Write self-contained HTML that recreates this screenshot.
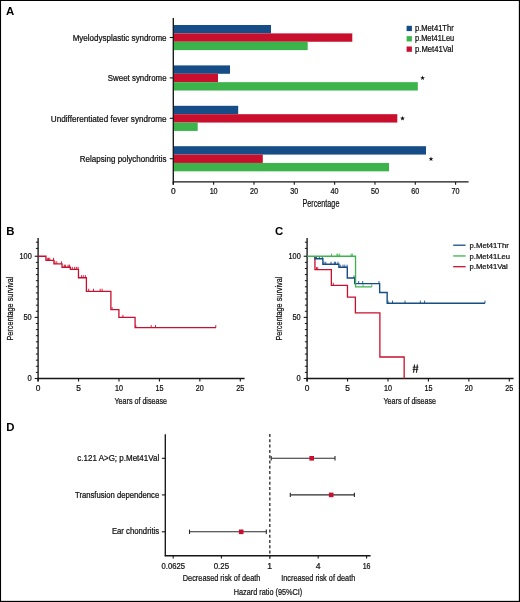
<!DOCTYPE html>
<html><head><meta charset="utf-8"><style>
html,body{margin:0;padding:0;background:#fff;}
svg{display:block;will-change:transform;}
text{font-family:"Liberation Sans",sans-serif;}
</style></head><body>
<svg width="520" height="602" viewBox="0 0 520 602">
<rect width="520" height="602" fill="#fff"/>
<rect x="0.00" y="0.00" width="520.00" height="1.00" fill="#000"/>
<rect x="0.00" y="600.85" width="520.00" height="1.15" fill="#000"/>
<rect x="0.00" y="0.00" width="1.05" height="602.00" fill="#000"/>
<rect x="518.85" y="0.00" width="1.15" height="602.00" fill="#000"/>
<text x="6.00" y="15.00" font-size="11.4" font-weight="bold" fill="#000">A</text>
<rect x="173.80" y="25.00" width="97.20" height="8.38" fill="#164d86"/>
<rect x="173.80" y="33.38" width="178.50" height="8.38" fill="#c8102e"/>
<rect x="173.80" y="41.76" width="133.90" height="8.38" fill="#3cb44b"/>
<rect x="173.80" y="65.40" width="56.20" height="8.38" fill="#164d86"/>
<rect x="173.80" y="73.78" width="44.20" height="8.38" fill="#c8102e"/>
<rect x="173.80" y="82.16" width="244.00" height="8.38" fill="#3cb44b"/>
<rect x="173.80" y="105.80" width="64.40" height="8.38" fill="#164d86"/>
<rect x="173.80" y="114.18" width="223.50" height="8.38" fill="#c8102e"/>
<rect x="173.80" y="122.56" width="23.90" height="8.38" fill="#3cb44b"/>
<rect x="173.80" y="146.20" width="252.20" height="8.38" fill="#164d86"/>
<rect x="173.80" y="154.58" width="89.00" height="8.38" fill="#c8102e"/>
<rect x="173.80" y="162.96" width="215.20" height="8.38" fill="#3cb44b"/>
<line x1="173.30" y1="18.10" x2="173.30" y2="184.80" stroke="#161616" stroke-width="1.35" />
<line x1="172.70" y1="181.90" x2="468.60" y2="181.90" stroke="#161616" stroke-width="1.35" />
<line x1="173.30" y1="181.90" x2="173.30" y2="184.80" stroke="#161616" stroke-width="1.1" />
<text x="173.30" y="194.20" font-size="8.4" text-anchor="middle" stroke="#111" stroke-width="0.24" fill="#111">0</text>
<line x1="213.63" y1="181.90" x2="213.63" y2="184.80" stroke="#161616" stroke-width="1.1" />
<text x="213.63" y="194.20" font-size="8.4" text-anchor="middle" textLength="8.00" lengthAdjust="spacingAndGlyphs" stroke="#111" stroke-width="0.24" fill="#111">10</text>
<line x1="253.96" y1="181.90" x2="253.96" y2="184.80" stroke="#161616" stroke-width="1.1" />
<text x="253.96" y="194.20" font-size="8.4" text-anchor="middle" textLength="8.00" lengthAdjust="spacingAndGlyphs" stroke="#111" stroke-width="0.24" fill="#111">20</text>
<line x1="294.29" y1="181.90" x2="294.29" y2="184.80" stroke="#161616" stroke-width="1.1" />
<text x="294.29" y="194.20" font-size="8.4" text-anchor="middle" textLength="8.00" lengthAdjust="spacingAndGlyphs" stroke="#111" stroke-width="0.24" fill="#111">30</text>
<line x1="334.62" y1="181.90" x2="334.62" y2="184.80" stroke="#161616" stroke-width="1.1" />
<text x="334.62" y="194.20" font-size="8.4" text-anchor="middle" textLength="8.00" lengthAdjust="spacingAndGlyphs" stroke="#111" stroke-width="0.24" fill="#111">40</text>
<line x1="374.95" y1="181.90" x2="374.95" y2="184.80" stroke="#161616" stroke-width="1.1" />
<text x="374.95" y="194.20" font-size="8.4" text-anchor="middle" textLength="8.00" lengthAdjust="spacingAndGlyphs" stroke="#111" stroke-width="0.24" fill="#111">50</text>
<line x1="415.28" y1="181.90" x2="415.28" y2="184.80" stroke="#161616" stroke-width="1.1" />
<text x="415.28" y="194.20" font-size="8.4" text-anchor="middle" textLength="8.00" lengthAdjust="spacingAndGlyphs" stroke="#111" stroke-width="0.24" fill="#111">60</text>
<line x1="455.61" y1="181.90" x2="455.61" y2="184.80" stroke="#161616" stroke-width="1.1" />
<text x="455.61" y="194.20" font-size="8.4" text-anchor="middle" textLength="8.00" lengthAdjust="spacingAndGlyphs" stroke="#111" stroke-width="0.24" fill="#111">70</text>
<line x1="169.80" y1="37.50" x2="173.30" y2="37.50" stroke="#161616" stroke-width="1.1" />
<text x="72.70" y="40.90" font-size="8.5" textLength="93.90" lengthAdjust="spacingAndGlyphs" stroke="#111" stroke-width="0.24" fill="#111">Myelodysplastic syndrome</text>
<line x1="169.80" y1="77.90" x2="173.30" y2="77.90" stroke="#161616" stroke-width="1.1" />
<text x="107.80" y="81.00" font-size="8.5" textLength="58.80" lengthAdjust="spacingAndGlyphs" stroke="#111" stroke-width="0.24" fill="#111">Sweet syndrome</text>
<line x1="169.80" y1="118.30" x2="173.30" y2="118.30" stroke="#161616" stroke-width="1.1" />
<text x="50.80" y="121.70" font-size="8.5" textLength="115.80" lengthAdjust="spacingAndGlyphs" stroke="#111" stroke-width="0.24" fill="#111">Undifferentiated fever syndrome</text>
<line x1="169.80" y1="158.70" x2="173.30" y2="158.70" stroke="#161616" stroke-width="1.1" />
<text x="79.80" y="161.60" font-size="8.5" textLength="86.80" lengthAdjust="spacingAndGlyphs" stroke="#111" stroke-width="0.24" fill="#111">Relapsing polychondritis</text>
<text x="302.50" y="207.30" font-size="10" textLength="36.90" lengthAdjust="spacingAndGlyphs" stroke="#111" stroke-width="0.24" fill="#111">Percentage</text>
<polygon points="422.60,75.50 423.22,77.15 424.98,77.23 423.60,78.32 424.07,80.02 422.60,79.05 421.13,80.02 421.60,78.32 420.22,77.23 421.98,77.15" fill="#111"/>
<polygon points="402.50,115.90 403.12,117.55 404.88,117.63 403.50,118.72 403.97,120.42 402.50,119.45 401.03,120.42 401.50,118.72 400.12,117.63 401.88,117.55" fill="#111"/>
<polygon points="431.00,156.50 431.62,158.15 433.38,158.23 432.00,159.32 432.47,161.02 431.00,160.05 429.53,161.02 430.00,159.32 428.62,158.23 430.38,158.15" fill="#111"/>
<rect x="406.60" y="25.80" width="5.30" height="5.30" fill="#164d86"/>
<text x="415.00" y="31.00" font-size="8.4" textLength="38.70" lengthAdjust="spacingAndGlyphs" stroke="#111" stroke-width="0.24" fill="#111">p.Met41Thr</text>
<rect x="406.60" y="36.15" width="5.30" height="5.30" fill="#3cb44b"/>
<text x="415.00" y="41.35" font-size="8.4" textLength="39.20" lengthAdjust="spacingAndGlyphs" stroke="#111" stroke-width="0.24" fill="#111">p.Met41Leu</text>
<rect x="406.60" y="46.50" width="5.30" height="5.30" fill="#c8102e"/>
<text x="415.00" y="51.70" font-size="8.4" textLength="38.30" lengthAdjust="spacingAndGlyphs" stroke="#111" stroke-width="0.24" fill="#111">p.Met41Val</text>
<text x="6.20" y="234.90" font-size="11.4" font-weight="bold" fill="#000">B</text>
<line x1="38.10" y1="237.90" x2="38.10" y2="381.50" stroke="#161616" stroke-width="1.35" />
<line x1="37.50" y1="378.50" x2="244.60" y2="378.50" stroke="#161616" stroke-width="1.35" />
<line x1="34.70" y1="378.50" x2="38.10" y2="378.50" stroke="#161616" stroke-width="1.1" />
<line x1="35.90" y1="372.39" x2="38.10" y2="372.39" stroke="#161616" stroke-width="1.0" />
<line x1="35.90" y1="366.27" x2="38.10" y2="366.27" stroke="#161616" stroke-width="1.0" />
<line x1="35.90" y1="360.16" x2="38.10" y2="360.16" stroke="#161616" stroke-width="1.0" />
<line x1="35.90" y1="354.05" x2="38.10" y2="354.05" stroke="#161616" stroke-width="1.0" />
<line x1="35.90" y1="347.94" x2="38.10" y2="347.94" stroke="#161616" stroke-width="1.0" />
<line x1="35.90" y1="341.82" x2="38.10" y2="341.82" stroke="#161616" stroke-width="1.0" />
<line x1="35.90" y1="335.71" x2="38.10" y2="335.71" stroke="#161616" stroke-width="1.0" />
<line x1="35.90" y1="329.60" x2="38.10" y2="329.60" stroke="#161616" stroke-width="1.0" />
<line x1="35.90" y1="323.49" x2="38.10" y2="323.49" stroke="#161616" stroke-width="1.0" />
<line x1="34.70" y1="317.38" x2="38.10" y2="317.38" stroke="#161616" stroke-width="1.1" />
<line x1="35.90" y1="311.26" x2="38.10" y2="311.26" stroke="#161616" stroke-width="1.0" />
<line x1="35.90" y1="305.15" x2="38.10" y2="305.15" stroke="#161616" stroke-width="1.0" />
<line x1="35.90" y1="299.04" x2="38.10" y2="299.04" stroke="#161616" stroke-width="1.0" />
<line x1="35.90" y1="292.93" x2="38.10" y2="292.93" stroke="#161616" stroke-width="1.0" />
<line x1="35.90" y1="286.81" x2="38.10" y2="286.81" stroke="#161616" stroke-width="1.0" />
<line x1="35.90" y1="280.70" x2="38.10" y2="280.70" stroke="#161616" stroke-width="1.0" />
<line x1="35.90" y1="274.59" x2="38.10" y2="274.59" stroke="#161616" stroke-width="1.0" />
<line x1="35.90" y1="268.48" x2="38.10" y2="268.48" stroke="#161616" stroke-width="1.0" />
<line x1="35.90" y1="262.36" x2="38.10" y2="262.36" stroke="#161616" stroke-width="1.0" />
<line x1="34.70" y1="256.25" x2="38.10" y2="256.25" stroke="#161616" stroke-width="1.1" />
<line x1="35.90" y1="248.40" x2="38.10" y2="248.40" stroke="#161616" stroke-width="1.0" />
<line x1="35.90" y1="242.20" x2="38.10" y2="242.20" stroke="#161616" stroke-width="1.0" />
<text x="31.70" y="259.15" font-size="8.4" text-anchor="end" textLength="12.20" lengthAdjust="spacingAndGlyphs" stroke="#111" stroke-width="0.24" fill="#111">100</text>
<text x="31.70" y="320.27" font-size="8.4" text-anchor="end" textLength="8.20" lengthAdjust="spacingAndGlyphs" stroke="#111" stroke-width="0.24" fill="#111">50</text>
<text x="31.70" y="381.40" font-size="8.4" text-anchor="end" textLength="4.20" lengthAdjust="spacingAndGlyphs" stroke="#111" stroke-width="0.24" fill="#111">0</text>
<line x1="38.10" y1="378.50" x2="38.10" y2="381.50" stroke="#161616" stroke-width="1.1" />
<text x="38.10" y="390.90" font-size="8.4" text-anchor="middle" stroke="#111" stroke-width="0.24" fill="#111">0</text>
<line x1="78.54" y1="378.50" x2="78.54" y2="381.50" stroke="#161616" stroke-width="1.1" />
<text x="78.54" y="390.90" font-size="8.4" text-anchor="middle" stroke="#111" stroke-width="0.24" fill="#111">5</text>
<line x1="118.98" y1="378.50" x2="118.98" y2="381.50" stroke="#161616" stroke-width="1.1" />
<text x="118.98" y="390.90" font-size="8.4" text-anchor="middle" textLength="8.00" lengthAdjust="spacingAndGlyphs" stroke="#111" stroke-width="0.24" fill="#111">10</text>
<line x1="159.42" y1="378.50" x2="159.42" y2="381.50" stroke="#161616" stroke-width="1.1" />
<text x="159.42" y="390.90" font-size="8.4" text-anchor="middle" textLength="8.00" lengthAdjust="spacingAndGlyphs" stroke="#111" stroke-width="0.24" fill="#111">15</text>
<line x1="199.86" y1="378.50" x2="199.86" y2="381.50" stroke="#161616" stroke-width="1.1" />
<text x="199.86" y="390.90" font-size="8.4" text-anchor="middle" textLength="8.00" lengthAdjust="spacingAndGlyphs" stroke="#111" stroke-width="0.24" fill="#111">20</text>
<line x1="240.30" y1="378.50" x2="240.30" y2="381.50" stroke="#161616" stroke-width="1.1" />
<text x="240.30" y="390.90" font-size="8.4" text-anchor="middle" textLength="8.00" lengthAdjust="spacingAndGlyphs" stroke="#111" stroke-width="0.24" fill="#111">25</text>
<text x="114.50" y="403.50" font-size="9.3" textLength="52.50" lengthAdjust="spacingAndGlyphs" stroke="#111" stroke-width="0.24" fill="#111">Years of disease</text>
<text x="13.50" y="340.60" font-size="9.9" textLength="64.00" lengthAdjust="spacingAndGlyphs" transform="rotate(-90 13.50 340.60)" stroke="#111" stroke-width="0.24" fill="#111">Percentage survival</text>
<path d="M38.10,256.25 L45.95,256.25 L45.95,260.41 L53.95,260.41 L53.95,263.83 L62.04,263.83 L62.04,267.25 L70.37,267.25 L70.37,269.45 L78.46,269.45 L78.46,277.77 L86.39,277.77 L86.39,291.34 L110.89,291.34 L110.89,309.67 L118.90,309.67 L118.90,317.38 L135.08,317.38 L135.08,327.64 L216.04,327.64" fill="none" stroke="#c8102e" stroke-width="1.3" stroke-linejoin="miter" stroke-linecap="butt"/>
<line x1="47.30" y1="257.81" x2="47.30" y2="260.41" stroke="#c8102e" stroke-width="0.9" />
<line x1="48.50" y1="257.81" x2="48.50" y2="260.41" stroke="#c8102e" stroke-width="0.9" />
<line x1="49.80" y1="257.81" x2="49.80" y2="260.41" stroke="#c8102e" stroke-width="0.9" />
<line x1="53.50" y1="257.81" x2="53.50" y2="260.41" stroke="#c8102e" stroke-width="0.9" />
<line x1="55.00" y1="261.23" x2="55.00" y2="263.83" stroke="#c8102e" stroke-width="0.9" />
<line x1="56.80" y1="261.23" x2="56.80" y2="263.83" stroke="#c8102e" stroke-width="0.9" />
<line x1="61.40" y1="261.23" x2="61.40" y2="263.83" stroke="#c8102e" stroke-width="0.9" />
<line x1="64.30" y1="264.65" x2="64.30" y2="267.25" stroke="#c8102e" stroke-width="0.9" />
<line x1="65.40" y1="264.65" x2="65.40" y2="267.25" stroke="#c8102e" stroke-width="0.9" />
<line x1="68.10" y1="264.65" x2="68.10" y2="267.25" stroke="#c8102e" stroke-width="0.9" />
<line x1="69.50" y1="264.65" x2="69.50" y2="267.25" stroke="#c8102e" stroke-width="0.9" />
<line x1="72.30" y1="266.85" x2="72.30" y2="269.45" stroke="#c8102e" stroke-width="0.9" />
<line x1="74.70" y1="266.85" x2="74.70" y2="269.45" stroke="#c8102e" stroke-width="0.9" />
<line x1="76.40" y1="266.85" x2="76.40" y2="269.45" stroke="#c8102e" stroke-width="0.9" />
<line x1="78.10" y1="266.85" x2="78.10" y2="269.45" stroke="#c8102e" stroke-width="0.9" />
<line x1="81.60" y1="275.17" x2="81.60" y2="277.77" stroke="#c8102e" stroke-width="0.9" />
<line x1="83.30" y1="275.17" x2="83.30" y2="277.77" stroke="#c8102e" stroke-width="0.9" />
<line x1="85.40" y1="275.17" x2="85.40" y2="277.77" stroke="#c8102e" stroke-width="0.9" />
<line x1="88.70" y1="288.74" x2="88.70" y2="291.34" stroke="#c8102e" stroke-width="0.9" />
<line x1="93.50" y1="288.74" x2="93.50" y2="291.34" stroke="#c8102e" stroke-width="0.9" />
<line x1="100.20" y1="288.74" x2="100.20" y2="291.34" stroke="#c8102e" stroke-width="0.9" />
<line x1="102.10" y1="288.74" x2="102.10" y2="291.34" stroke="#c8102e" stroke-width="0.9" />
<line x1="112.10" y1="307.07" x2="112.10" y2="309.67" stroke="#c8102e" stroke-width="0.9" />
<line x1="122.90" y1="314.77" x2="122.90" y2="317.38" stroke="#c8102e" stroke-width="0.9" />
<line x1="135.80" y1="325.04" x2="135.80" y2="327.64" stroke="#c8102e" stroke-width="0.9" />
<line x1="151.20" y1="325.04" x2="151.20" y2="327.64" stroke="#c8102e" stroke-width="0.9" />
<line x1="155.50" y1="325.04" x2="155.50" y2="327.64" stroke="#c8102e" stroke-width="0.9" />
<line x1="215.80" y1="325.04" x2="215.80" y2="327.64" stroke="#c8102e" stroke-width="0.9" />
<text x="275.00" y="234.90" font-size="11.4" font-weight="bold" fill="#000">C</text>
<line x1="307.10" y1="237.90" x2="307.10" y2="381.50" stroke="#161616" stroke-width="1.35" />
<line x1="306.50" y1="378.50" x2="513.60" y2="378.50" stroke="#161616" stroke-width="1.35" />
<line x1="303.70" y1="378.50" x2="307.10" y2="378.50" stroke="#161616" stroke-width="1.1" />
<line x1="304.90" y1="372.39" x2="307.10" y2="372.39" stroke="#161616" stroke-width="1.0" />
<line x1="304.90" y1="366.27" x2="307.10" y2="366.27" stroke="#161616" stroke-width="1.0" />
<line x1="304.90" y1="360.16" x2="307.10" y2="360.16" stroke="#161616" stroke-width="1.0" />
<line x1="304.90" y1="354.05" x2="307.10" y2="354.05" stroke="#161616" stroke-width="1.0" />
<line x1="304.90" y1="347.94" x2="307.10" y2="347.94" stroke="#161616" stroke-width="1.0" />
<line x1="304.90" y1="341.82" x2="307.10" y2="341.82" stroke="#161616" stroke-width="1.0" />
<line x1="304.90" y1="335.71" x2="307.10" y2="335.71" stroke="#161616" stroke-width="1.0" />
<line x1="304.90" y1="329.60" x2="307.10" y2="329.60" stroke="#161616" stroke-width="1.0" />
<line x1="304.90" y1="323.49" x2="307.10" y2="323.49" stroke="#161616" stroke-width="1.0" />
<line x1="303.70" y1="317.38" x2="307.10" y2="317.38" stroke="#161616" stroke-width="1.1" />
<line x1="304.90" y1="311.26" x2="307.10" y2="311.26" stroke="#161616" stroke-width="1.0" />
<line x1="304.90" y1="305.15" x2="307.10" y2="305.15" stroke="#161616" stroke-width="1.0" />
<line x1="304.90" y1="299.04" x2="307.10" y2="299.04" stroke="#161616" stroke-width="1.0" />
<line x1="304.90" y1="292.93" x2="307.10" y2="292.93" stroke="#161616" stroke-width="1.0" />
<line x1="304.90" y1="286.81" x2="307.10" y2="286.81" stroke="#161616" stroke-width="1.0" />
<line x1="304.90" y1="280.70" x2="307.10" y2="280.70" stroke="#161616" stroke-width="1.0" />
<line x1="304.90" y1="274.59" x2="307.10" y2="274.59" stroke="#161616" stroke-width="1.0" />
<line x1="304.90" y1="268.48" x2="307.10" y2="268.48" stroke="#161616" stroke-width="1.0" />
<line x1="304.90" y1="262.36" x2="307.10" y2="262.36" stroke="#161616" stroke-width="1.0" />
<line x1="303.70" y1="256.25" x2="307.10" y2="256.25" stroke="#161616" stroke-width="1.1" />
<line x1="304.90" y1="248.40" x2="307.10" y2="248.40" stroke="#161616" stroke-width="1.0" />
<line x1="304.90" y1="242.20" x2="307.10" y2="242.20" stroke="#161616" stroke-width="1.0" />
<text x="300.70" y="259.15" font-size="8.4" text-anchor="end" textLength="12.20" lengthAdjust="spacingAndGlyphs" stroke="#111" stroke-width="0.24" fill="#111">100</text>
<text x="300.70" y="320.27" font-size="8.4" text-anchor="end" textLength="8.20" lengthAdjust="spacingAndGlyphs" stroke="#111" stroke-width="0.24" fill="#111">50</text>
<text x="300.70" y="381.40" font-size="8.4" text-anchor="end" textLength="4.20" lengthAdjust="spacingAndGlyphs" stroke="#111" stroke-width="0.24" fill="#111">0</text>
<line x1="307.10" y1="378.50" x2="307.10" y2="381.50" stroke="#161616" stroke-width="1.1" />
<text x="307.10" y="390.90" font-size="8.4" text-anchor="middle" stroke="#111" stroke-width="0.24" fill="#111">0</text>
<line x1="347.54" y1="378.50" x2="347.54" y2="381.50" stroke="#161616" stroke-width="1.1" />
<text x="347.54" y="390.90" font-size="8.4" text-anchor="middle" stroke="#111" stroke-width="0.24" fill="#111">5</text>
<line x1="387.98" y1="378.50" x2="387.98" y2="381.50" stroke="#161616" stroke-width="1.1" />
<text x="387.98" y="390.90" font-size="8.4" text-anchor="middle" textLength="8.00" lengthAdjust="spacingAndGlyphs" stroke="#111" stroke-width="0.24" fill="#111">10</text>
<line x1="428.42" y1="378.50" x2="428.42" y2="381.50" stroke="#161616" stroke-width="1.1" />
<text x="428.42" y="390.90" font-size="8.4" text-anchor="middle" textLength="8.00" lengthAdjust="spacingAndGlyphs" stroke="#111" stroke-width="0.24" fill="#111">15</text>
<line x1="468.86" y1="378.50" x2="468.86" y2="381.50" stroke="#161616" stroke-width="1.1" />
<text x="468.86" y="390.90" font-size="8.4" text-anchor="middle" textLength="8.00" lengthAdjust="spacingAndGlyphs" stroke="#111" stroke-width="0.24" fill="#111">20</text>
<line x1="509.30" y1="378.50" x2="509.30" y2="381.50" stroke="#161616" stroke-width="1.1" />
<text x="509.30" y="390.90" font-size="8.4" text-anchor="middle" textLength="8.00" lengthAdjust="spacingAndGlyphs" stroke="#111" stroke-width="0.24" fill="#111">25</text>
<text x="383.50" y="403.50" font-size="9.3" textLength="52.50" lengthAdjust="spacingAndGlyphs" stroke="#111" stroke-width="0.24" fill="#111">Years of disease</text>
<text x="282.30" y="340.60" font-size="9.9" textLength="64.00" lengthAdjust="spacingAndGlyphs" transform="rotate(-90 282.30 340.60)" stroke="#111" stroke-width="0.24" fill="#111">Percentage survival</text>
<path d="M314.95,256.25 L314.95,256.25 L314.95,269.70 L331.36,269.70 L331.36,285.35 L347.46,285.35 L347.46,297.08 L355.39,297.08 L355.39,312.97 L379.89,312.97 L379.89,356.98 L404.16,356.98 L404.16,378.50" fill="none" stroke="#c8102e" stroke-width="1.3" stroke-linejoin="miter" stroke-linecap="butt"/>
<line x1="316.50" y1="267.10" x2="316.50" y2="269.70" stroke="#c8102e" stroke-width="0.9" />
<line x1="317.70" y1="267.10" x2="317.70" y2="269.70" stroke="#c8102e" stroke-width="0.9" />
<line x1="333.30" y1="282.75" x2="333.30" y2="285.35" stroke="#c8102e" stroke-width="0.9" />
<path d="M314.95,256.25 L314.95,256.25 L314.95,258.69 L322.87,258.69 L322.87,264.32 L338.89,264.32 L338.89,267.25 L347.30,267.25 L347.30,278.01 L354.74,278.01 L354.74,283.63 L379.65,283.63 L379.65,292.44 L387.17,292.44 L387.17,303.19 L485.04,303.19" fill="none" stroke="#164d86" stroke-width="1.4" stroke-linejoin="miter" stroke-linecap="butt"/>
<line x1="316.50" y1="256.09" x2="316.50" y2="258.69" stroke="#164d86" stroke-width="0.9" />
<line x1="319.40" y1="256.09" x2="319.40" y2="258.69" stroke="#164d86" stroke-width="0.9" />
<line x1="322.30" y1="256.09" x2="322.30" y2="258.69" stroke="#164d86" stroke-width="0.9" />
<line x1="324.00" y1="261.72" x2="324.00" y2="264.32" stroke="#164d86" stroke-width="0.9" />
<line x1="325.80" y1="261.72" x2="325.80" y2="264.32" stroke="#164d86" stroke-width="0.9" />
<line x1="331.00" y1="261.72" x2="331.00" y2="264.32" stroke="#164d86" stroke-width="0.9" />
<line x1="334.40" y1="261.72" x2="334.40" y2="264.32" stroke="#164d86" stroke-width="0.9" />
<line x1="335.60" y1="261.72" x2="335.60" y2="264.32" stroke="#164d86" stroke-width="0.9" />
<line x1="338.00" y1="261.72" x2="338.00" y2="264.32" stroke="#164d86" stroke-width="0.9" />
<line x1="340.20" y1="264.65" x2="340.20" y2="267.25" stroke="#164d86" stroke-width="0.9" />
<line x1="343.00" y1="264.65" x2="343.00" y2="267.25" stroke="#164d86" stroke-width="0.9" />
<line x1="344.80" y1="264.65" x2="344.80" y2="267.25" stroke="#164d86" stroke-width="0.9" />
<line x1="347.10" y1="264.65" x2="347.10" y2="267.25" stroke="#164d86" stroke-width="0.9" />
<line x1="354.00" y1="275.41" x2="354.00" y2="278.01" stroke="#164d86" stroke-width="0.9" />
<line x1="358.70" y1="281.03" x2="358.70" y2="283.63" stroke="#164d86" stroke-width="0.9" />
<line x1="362.70" y1="281.03" x2="362.70" y2="283.63" stroke="#164d86" stroke-width="0.9" />
<line x1="379.00" y1="281.03" x2="379.00" y2="283.63" stroke="#164d86" stroke-width="0.9" />
<line x1="388.00" y1="300.59" x2="388.00" y2="303.19" stroke="#164d86" stroke-width="0.9" />
<line x1="392.50" y1="300.59" x2="392.50" y2="303.19" stroke="#164d86" stroke-width="0.9" />
<line x1="405.00" y1="300.59" x2="405.00" y2="303.19" stroke="#164d86" stroke-width="0.9" />
<line x1="420.30" y1="300.59" x2="420.30" y2="303.19" stroke="#164d86" stroke-width="0.9" />
<line x1="424.60" y1="300.59" x2="424.60" y2="303.19" stroke="#164d86" stroke-width="0.9" />
<line x1="485.00" y1="300.59" x2="485.00" y2="303.19" stroke="#164d86" stroke-width="0.9" />
<path d="M307.10,256.25 L355.55,256.25 L355.55,286.81 L371.80,286.81" fill="none" stroke="#3cb44b" stroke-width="1.3" stroke-linejoin="miter" stroke-linecap="butt"/>
<line x1="331.50" y1="253.65" x2="331.50" y2="256.25" stroke="#3cb44b" stroke-width="0.9" />
<line x1="337.00" y1="253.65" x2="337.00" y2="256.25" stroke="#3cb44b" stroke-width="0.9" />
<line x1="337.90" y1="253.65" x2="337.90" y2="256.25" stroke="#3cb44b" stroke-width="0.9" />
<line x1="339.60" y1="253.65" x2="339.60" y2="256.25" stroke="#3cb44b" stroke-width="0.9" />
<line x1="351.20" y1="253.65" x2="351.20" y2="256.25" stroke="#3cb44b" stroke-width="0.9" />
<line x1="352.30" y1="253.65" x2="352.30" y2="256.25" stroke="#3cb44b" stroke-width="0.9" />
<line x1="363.00" y1="284.21" x2="363.00" y2="286.81" stroke="#3cb44b" stroke-width="0.9" />
<line x1="371.80" y1="284.21" x2="371.80" y2="286.81" stroke="#3cb44b" stroke-width="0.9" />
<line x1="414.50" y1="364.50" x2="413.60" y2="372.70" stroke="#111" stroke-width="1.05" />
<line x1="417.40" y1="364.50" x2="416.50" y2="372.70" stroke="#111" stroke-width="1.05" />
<line x1="412.70" y1="367.20" x2="418.40" y2="367.20" stroke="#111" stroke-width="0.85" />
<line x1="412.50" y1="369.40" x2="418.20" y2="369.40" stroke="#111" stroke-width="0.85" />
<line x1="453.20" y1="245.20" x2="465.60" y2="245.20" stroke="#164d86" stroke-width="1.3" />
<text x="469.60" y="247.80" font-size="8.0" textLength="39.30" lengthAdjust="spacingAndGlyphs" stroke="#111" stroke-width="0.24" fill="#111">p.Met41Thr</text>
<line x1="453.20" y1="255.95" x2="465.60" y2="255.95" stroke="#3cb44b" stroke-width="1.3" />
<text x="469.60" y="258.55" font-size="8.0" textLength="40.40" lengthAdjust="spacingAndGlyphs" stroke="#111" stroke-width="0.24" fill="#111">p.Met41Leu</text>
<line x1="453.20" y1="266.70" x2="465.60" y2="266.70" stroke="#c8102e" stroke-width="1.3" />
<text x="469.60" y="269.30" font-size="8.0" textLength="38.20" lengthAdjust="spacingAndGlyphs" stroke="#111" stroke-width="0.24" fill="#111">p.Met41Val</text>
<text x="6.20" y="431.30" font-size="11.4" font-weight="bold" fill="#000">D</text>
<line x1="165.30" y1="434.30" x2="165.30" y2="556.30" stroke="#161616" stroke-width="1.35" />
<line x1="164.70" y1="555.70" x2="370.60" y2="555.70" stroke="#161616" stroke-width="1.35" />
<line x1="173.20" y1="555.70" x2="173.20" y2="558.60" stroke="#161616" stroke-width="1.1" />
<text x="173.20" y="568.60" font-size="8.6" text-anchor="middle" textLength="23.40" lengthAdjust="spacingAndGlyphs" stroke="#111" stroke-width="0.24" fill="#111">0.0625</text>
<line x1="221.40" y1="555.70" x2="221.40" y2="558.60" stroke="#161616" stroke-width="1.1" />
<text x="221.40" y="568.60" font-size="8.6" text-anchor="middle" textLength="15.40" lengthAdjust="spacingAndGlyphs" stroke="#111" stroke-width="0.24" fill="#111">0.25</text>
<line x1="269.70" y1="555.70" x2="269.70" y2="558.60" stroke="#161616" stroke-width="1.1" />
<text x="269.70" y="568.60" font-size="8.6" text-anchor="middle" stroke="#111" stroke-width="0.24" fill="#111">1</text>
<line x1="318.20" y1="555.70" x2="318.20" y2="558.60" stroke="#161616" stroke-width="1.1" />
<text x="318.20" y="568.60" font-size="8.6" text-anchor="middle" stroke="#111" stroke-width="0.24" fill="#111">4</text>
<line x1="366.60" y1="555.70" x2="366.60" y2="558.60" stroke="#161616" stroke-width="1.1" />
<text x="366.60" y="568.60" font-size="8.6" text-anchor="middle" textLength="7.80" lengthAdjust="spacingAndGlyphs" stroke="#111" stroke-width="0.24" fill="#111">16</text>
<line x1="269.80" y1="434.00" x2="269.80" y2="558.50" stroke="#444" stroke-width="1.5" stroke-dasharray="3 2.3"/>
<line x1="161.90" y1="458.30" x2="165.30" y2="458.30" stroke="#161616" stroke-width="1.1" />
<text x="77.30" y="460.90" font-size="8.3" textLength="81.90" lengthAdjust="spacingAndGlyphs" stroke="#111" stroke-width="0.24" fill="#111">c.121 A&gt;G; p.Met41Val</text>
<line x1="271.20" y1="458.30" x2="335.00" y2="458.30" stroke="#2a2a2a" stroke-width="1.1" />
<line x1="271.20" y1="456.10" x2="271.20" y2="460.50" stroke="#2a2a2a" stroke-width="1.1" />
<line x1="335.00" y1="456.10" x2="335.00" y2="460.50" stroke="#2a2a2a" stroke-width="1.1" />
<rect x="309.40" y="456.00" width="4.60" height="4.60" fill="#c8102e"/>
<line x1="161.90" y1="494.90" x2="165.30" y2="494.90" stroke="#161616" stroke-width="1.1" />
<text x="75.00" y="497.50" font-size="8.3" textLength="84.20" lengthAdjust="spacingAndGlyphs" stroke="#111" stroke-width="0.24" fill="#111">Transfusion dependence</text>
<line x1="290.30" y1="494.90" x2="354.40" y2="494.90" stroke="#2a2a2a" stroke-width="1.1" />
<line x1="290.30" y1="492.70" x2="290.30" y2="497.10" stroke="#2a2a2a" stroke-width="1.1" />
<line x1="354.40" y1="492.70" x2="354.40" y2="497.10" stroke="#2a2a2a" stroke-width="1.1" />
<rect x="328.90" y="492.60" width="4.60" height="4.60" fill="#c8102e"/>
<line x1="161.90" y1="531.80" x2="165.30" y2="531.80" stroke="#161616" stroke-width="1.1" />
<text x="111.90" y="534.40" font-size="8.3" textLength="47.30" lengthAdjust="spacingAndGlyphs" stroke="#111" stroke-width="0.24" fill="#111">Ear chondritis</text>
<line x1="189.50" y1="531.80" x2="266.30" y2="531.80" stroke="#2a2a2a" stroke-width="1.1" />
<line x1="189.50" y1="529.60" x2="189.50" y2="534.00" stroke="#2a2a2a" stroke-width="1.1" />
<line x1="266.30" y1="529.60" x2="266.30" y2="534.00" stroke="#2a2a2a" stroke-width="1.1" />
<rect x="238.90" y="529.50" width="4.60" height="4.60" fill="#c8102e"/>
<text x="182.80" y="580.80" font-size="9.4" textLength="77.60" lengthAdjust="spacingAndGlyphs" stroke="#111" stroke-width="0.24" fill="#111">Decreased risk of death</text>
<text x="281.20" y="580.80" font-size="9.4" textLength="74.10" lengthAdjust="spacingAndGlyphs" stroke="#111" stroke-width="0.24" fill="#111">Increased risk of death</text>
<text x="233.80" y="594.80" font-size="9.4" textLength="68.50" lengthAdjust="spacingAndGlyphs" stroke="#111" stroke-width="0.24" fill="#111">Hazard ratio (95%CI)</text>
</svg></body></html>
